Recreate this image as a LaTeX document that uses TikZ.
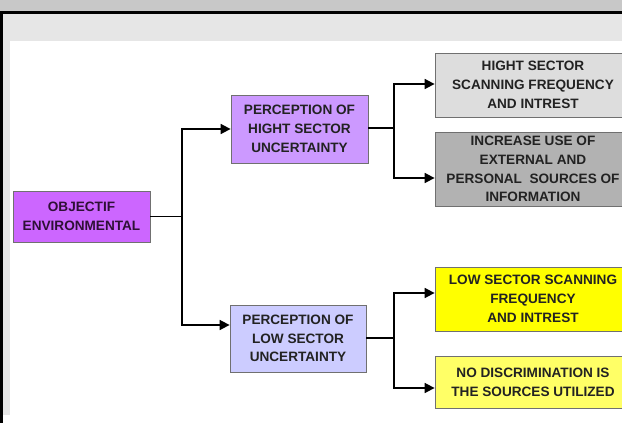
\documentclass[tikz,border=0pt]{standalone}
\usepackage{fontspec}
\setmainfont{Liberation Sans}
\usetikzlibrary{arrows.meta}
\definecolor{topbar}{HTML}{C8C8C8}
\definecolor{bandgray}{HTML}{E6E6E6}
\definecolor{objcol}{HTML}{CC66FF}
\definecolor{highcol}{HTML}{CC99FF}
\definecolor{lowcol}{HTML}{CCCCFF}
\definecolor{r1col}{HTML}{DDDDDD}
\definecolor{r2col}{HTML}{B2B2B2}
\definecolor{r3col}{HTML}{FFFF00}
\definecolor{r4col}{HTML}{FFFF66}
\definecolor{txtdark}{HTML}{222222}
\definecolor{objtxt}{HTML}{2E1036}
\definecolor{edgecol}{HTML}{707070}
\tikzset{
  box/.style={draw=edgecol, line width=0.8pt, align=center, inner sep=0pt,
    font=\fontsize{13.6}{18.8}\selectfont\bfseries, text=txtdark},
  conn/.style={line width=1.7pt, black},
  arr/.style={conn, -{Triangle[length=10pt,width=10pt]}},
}
\begin{document}
\begin{tikzpicture}[x=1pt,y=-1pt]
\useasboundingbox (0,0) rectangle (622,423);
\clip (0,0) rectangle (622,423);
% background frame
\fill[white] (0,0) rectangle (622,423);
\fill[topbar] (0,0) rectangle (622,11);
\fill[black] (0,11) rectangle (622,13.5);
\fill[black] (0,11) rectangle (2.5,423);
\fill[bandgray] (3,13.5) rectangle (622,41);
\fill[bandgray] (3,41) rectangle (10,415);
% nodes
\node[box, fill=objcol, text=objtxt, minimum width=137pt, minimum height=51pt] (obj) at (81.5,216.5) {OBJECTIF\\ENVIRONMENTAL};
\node[box, fill=highcol, minimum width=137pt, minimum height=68pt] (high) at (299.5,129) {PERCEPTION OF\\HIGHT SECTOR\\UNCERTAINTY};
\node[box, fill=lowcol, minimum width=136pt, minimum height=67pt] (low) at (298,338.5) {PERCEPTION OF\\LOW SECTOR\\UNCERTAINTY};
\node[box, fill=r1col, minimum width=196pt, minimum height=64pt] (r1) at (533,85) {HIGHT SECTOR\\SCANNING FREQUENCY\\AND INTREST};
\node[box, fill=r2col, minimum width=196pt, minimum height=74pt] (r2) at (533,169) {INCREASE USE OF\\EXTERNAL AND\\PERSONAL\ \ SOURCES OF\\INFORMATION};
\node[box, fill=r3col, minimum width=196pt, minimum height=64pt] (r3) at (533,299) {LOW SECTOR SCANNING\\FREQUENCY\\AND INTREST};
\node[box, fill=r4col, minimum width=196pt, minimum height=52pt] (r4) at (533,382) {NO DISCRIMINATION IS\\THE SOURCES UTILIZED};
% junction coordinates
\coordinate (j1) at (182,216.5);
\coordinate (j1t) at (182,129);
\coordinate (j1b) at (182,325);
\coordinate (j2) at (394,128);
\coordinate (j2t) at (394,84);
\coordinate (j2b) at (394,178);
\coordinate (j3) at (394,338);
\coordinate (j3t) at (394,293);
\coordinate (j3b) at (394,388);
% connectors
\draw[conn] (obj.east |- j1) -- (j1);
\draw[arr] (j1) -- (j1t) -- (high.west |- j1t);
\draw[arr] (j1) -- (j1b) -- (low.west |- j1b);
\draw[conn] (high.east |- j2) -- (j2);
\draw[arr] (j2) -- (j2t) -- (r1.west |- j2t);
\draw[arr] (j2) -- (j2b) -- (r2.west |- j2b);
\draw[conn] (low.east |- j3) -- (j3);
\draw[arr] (j3) -- (j3t) -- (r3.west |- j3t);
\draw[arr] (j3) -- (j3b) -- (r4.west |- j3b);
\end{tikzpicture}
\end{document}
